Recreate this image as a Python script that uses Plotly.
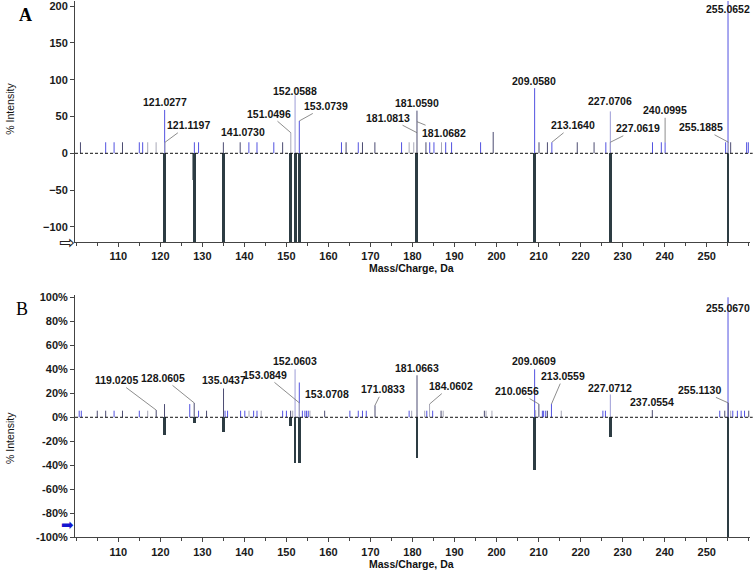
import plotly.graph_objects as go

# ---------------- data: panel A ----------------
a_blue_mz = [107, 109, 115, 115.8, 121.03, 128.1, 129.1, 141.07, 143, 147, 153.07, 163.1, 167.1, 177.4,
             184.1, 185.1, 187.9, 189.3, 196.2, 209.06, 213.16, 226.0, 237.1, 239.2, 240.1, 254.5, 255.07,
             259.5, 259.9]
a_blue_int = [15, 15, 15, 15, 59, 15, 15, 15, 15, 15, 44, 15, 15, 15,
              15, 15, 15, 15, 15, 88.6, 15, 15, 15, 15, 15, 15, 230,
              15, 15]
a_dark_mz = [101, 111, 135, 139, 149.1, 164.2, 168.1, 171.05, 181.06, 183.2, 199.2, 210.1, 212.1, 219.2, 223.2, 255.7]
a_dark_int = [15, 15, 15, 15, 15, 15, 15, 15, 58, 15, 29, 15, 15, 15, 15, 15]
a_gray_mz = [117, 119, 121.12, 151.05, 179.2, 180.3, 181.08, 181.07, 186.9, 227.06, 255.19]
a_gray_int = [15, 15, 15, 28, 15, 15, 28, 43, 15, 15, 15]
a_light_mz = [152.06, 227.07]
a_light_int = [79, 57]
a_ref_mz = [121.03, 128.06, 135.04, 151.05, 152.06, 153.07, 181.06, 209.06, 227.07, 255.07]
a_ref_int = [-250, -250, -250, -250, -250, -250, -250, -250, -250, -250]
a_ref2_mz = [127.75]
a_ref2_int = [-36]
a_lab_text = ["121.0277", "121.1197", "141.0730", "151.0496", "152.0588", "153.0739", "181.0590",
              "181.0813", "181.0682", "209.0580", "213.1640", "227.0706", "227.0619", "240.0995",
              "255.0652", "255.1885"]
a_lab_mz = [121.03, 121.12, 141.07, 151.05, 152.06, 153.07, 181.06,
            181.08, 181.07, 209.06, 213.16, 227.07, 227.06, 240.10,
            255.07, 255.19]
a_lab_int = [59, 15, 15, 28, 79, 44, 58,
             28, 43, 88.6, 15, 57, 15, 15,
             205, 15]

# ---------------- data: panel B ----------------
b_blue_mz = [100.7, 101.2, 109, 115, 127.0, 129.1, 135.4, 136.0, 139.1, 140.1, 142.2, 143.0, 149.1, 150.0,
             153.07, 153.8, 154.4, 154.8, 155.2, 165.1, 167.1, 168.1, 169.0, 179.2, 183.4, 184.8,
             209.06, 210.9, 211.2, 211.7, 213.06, 225.3, 225.9, 253.1, 255.07, 256.2, 257.3, 258.2, 259.0]
b_blue_int = [5.5, 5.5, 5.5, 5.5, 11, 5.5, 5.5, 5.5, 5.5, 5.5, 5.5, 5.5, 5.5, 5.5,
              29, 5.5, 5.5, 5.5, 5.5, 5.5, 5.5, 5.5, 5.5, 5.5, 5.5, 5.5,
              40, 5.5, 5.5, 5.5, 11, 5.5, 5.5, 5.5, 100, 5.5, 5.5, 5.5, 5.5]
b_dark_mz = [105, 107, 111, 119.02, 121.0, 128.06, 131.0, 135.04, 151.0, 159.1, 171.08, 181.07, 186.8,
             197.1, 210.07, 212.1, 237.06, 254.3, 255.11, 260.0]
b_dark_int = [5.5, 5.5, 5.5, 6, 11, 12, 5.5, 24, 5.5, 5.5, 10, 35, 5.5,
              5.5, 11, 5.5, 6, 5.5, 12, 5.5]
b_gray_mz = [117, 141.1, 144.0, 151.5, 153.08, 155.6, 179.8, 182.9, 184.06, 187.3, 197.5, 198.9, 209.3,
             215.4, 255.7]
b_gray_int = [5.5, 5.5, 5.5, 5.5, 12, 5.5, 5.5, 5.5, 11, 5.5, 5.5, 5.5, 6,
              5.5, 5.5]
b_light_mz = [152.06, 227.07]
b_light_int = [40, 19]
b_ref_mz = [121.0, 128.06, 135.04, 151.05, 152.06, 153.07, 181.06, 209.06, 227.07, 255.07]
b_ref_int = [-14.5, -5, -12.5, -7.5, -38, -38, -34, -44, -16.5, -100]
b_lab_text = ["119.0205", "128.0605", "135.0437", "152.0603", "153.0849", "153.0708", "171.0833",
              "181.0663", "184.0602", "209.0609", "210.0656", "213.0559", "227.0712", "237.0554",
              "255.0670", "255.1130"]
b_lab_mz = [119.02, 128.06, 135.04, 152.06, 153.08, 153.07, 171.08,
            181.07, 184.06, 209.06, 210.07, 213.06, 227.07, 237.06,
            255.07, 255.11]
b_lab_int = [6, 12, 24, 40, 12, 29, 10,
             35, 11, 40, 11, 11, 19, 6,
             91, 12]

x_ticks = list(range(110, 251, 10))
a_y_ticks = [-100, -50, 0, 50, 100, 150, 200]
b_y_ticks = [-100, -80, -60, -40, -20, 0, 20, 40, 60, 80, 100]
b_y_text = [f"{v}%" for v in b_y_ticks]

# ---------------- styles / positions ----------------
C_BLUE = "#5252e0"
C_DARK = "#4c4c72"
C_GRAY = "#a8a8b8"
C_LIGHT = "#9c9cd6"
C_REF = "#2d3c43"
FONT = "Liberation Sans"

# (dx, dy, leader) label centre offsets in px from peak top
a_lab_pos = [(0, -8, 0), (23, -17, 1), (-6, -10, 0), (-22, -19, 1), (0, -4, 0), (27, -15, 1), (0, -8, 0),
             (-29, -15, 1), (27, 11, 1), (-1, -7, 0), (21, -17, 1), (0, -10, 0), (28, -14, 1), (0, -32, 1),
             (0, 6, 0), (-28, -15, 1)]
b_lab_pos = [(-40, -30, 1), (-31, -25, 1), (0, -8, 0), (0, -8, 0), (-34, -28, 1), (28, 12, 1), (8, -16, 1),
             (0, -7, 0), (21, -18, 1), (-1, -8, 0), (-22, -13, 1), (12, -28, 1), (0, -6, 0), (0, -8, 0),
             (0, 0, 0), (-29, -13, 1)]


def sticks(mz, inten):
    xs, ys = [], []
    for m, h in zip(mz, inten):
        xs += [m, m, None]
        ys += [0, h, None]
    return xs, ys


fig = go.Figure()

for (xa, ya, groups) in [
    ("x", "y", [(a_blue_mz, a_blue_int, C_BLUE), (a_dark_mz, a_dark_int, C_DARK),
                (a_gray_mz, a_gray_int, C_GRAY), (a_light_mz, a_light_int, C_LIGHT)]),
    ("x2", "y2", [(b_blue_mz, b_blue_int, C_BLUE), (b_dark_mz, b_dark_int, C_DARK),
                  (b_gray_mz, b_gray_int, C_GRAY), (b_light_mz, b_light_int, C_LIGHT)]),
]:
    for mz, inten, col in groups:
        xs, ys = sticks(mz, inten)
        fig.add_trace(go.Scatter(x=xs, y=ys, mode="lines", line=dict(color=col, width=1),
                                 xaxis=xa, yaxis=ya, showlegend=False, hoverinfo="skip"))

fig.add_trace(go.Bar(x=a_ref2_mz, y=a_ref2_int, width=0.35, marker=dict(color="#8a9296", line_width=0),
                     xaxis="x", yaxis="y", showlegend=False))
fig.add_trace(go.Bar(x=a_ref_mz, y=a_ref_int, width=0.7, marker=dict(color=C_REF, line_width=0),
                     xaxis="x", yaxis="y", showlegend=False))
fig.add_trace(go.Bar(x=b_ref_mz, y=b_ref_int, width=0.65, marker=dict(color=C_REF, line_width=0),
                     xaxis="x2", yaxis="y2", showlegend=False))

ann = []
lab_font = dict(family=FONT, size=10.5, color="#151515", weight="bold")
for texts, mzs, ints, pos, xr, yr in [(a_lab_text, a_lab_mz, a_lab_int, a_lab_pos, "x", "y"),
                                      (b_lab_text, b_lab_mz, b_lab_int, b_lab_pos, "x2", "y2")]:
    for t, m, h, (dx, dy, lead) in zip(texts, mzs, ints, pos):
        if lead:
            ann.append(dict(x=m, y=h, xref=xr, yref=yr, text=t, showarrow=True, ax=dx, ay=dy,
                            arrowhead=0, arrowwidth=0.8, arrowcolor="#707070", standoff=0,
                            font=lab_font))
        else:
            ann.append(dict(x=m, y=h, xref=xr, yref=yr, text=t, showarrow=False, xshift=dx, yshift=-dy,
                            xanchor="center", yanchor="middle", font=lab_font))

ttl_font = dict(family=FONT, size=10.5, color="#111", weight="bold")
ann += [
    dict(x=0.4985, y=0.531, xref="paper", yref="paper", text="Mass/Charge, Da", showarrow=False,
         font=ttl_font, xanchor="center", yanchor="middle"),
    dict(x=0.4985, y=0.014, xref="paper", yref="paper", text="Mass/Charge, Da", showarrow=False,
         font=ttl_font, xanchor="center", yanchor="middle"),
    dict(x=-0.0963, y=0.81, xref="paper", yref="paper", text="% Intensity", showarrow=False, textangle=-90,
         font=dict(family=FONT, size=10.5, color="#111"), xanchor="center", yanchor="middle"),
    dict(x=-0.0963, y=0.2343, xref="paper", yref="paper", text="% Intensity", showarrow=False, textangle=-90,
         font=dict(family=FONT, size=10.5, color="#111"), xanchor="center", yanchor="middle"),
    dict(x=-0.074, y=0.9738, xref="paper", yref="paper", text="<b>A</b>", showarrow=False,
         font=dict(family="Liberation Serif", size=18, color="#000"), xanchor="center", yanchor="middle"),
    dict(x=-0.0785, y=0.4598, xref="paper", yref="paper", text="B", showarrow=False,
         font=dict(family="Liberation Serif", size=18, color="#000"), xanchor="center", yanchor="middle"),
    dict(x=0, y=-120, xref="x domain", yref="y", text="⇨", showarrow=False, xanchor="right", xshift=2,
         font=dict(family="DejaVu Sans", size=19, color="#222"), yanchor="middle"),
    dict(x=0, y=-90, xref="x2 domain", yref="y2", text="➡", showarrow=False, xanchor="right", xshift=1,
         font=dict(family="DejaVu Sans", size=15, color="#1515d0"), yanchor="middle"),
]

shapes = [
    dict(type="line", xref="x domain", yref="y", x0=0, x1=1.004, y0=0, y1=0,
         line=dict(color="#111", width=1, dash="3px,2px")),
    dict(type="line", xref="x2 domain", yref="y2", x0=0, x1=1.004, y0=0, y1=0,
         line=dict(color="#111", width=1, dash="3px,2px")),
]

tickfont = dict(family=FONT, size=11, color="#1a1a1a", weight="bold")
xcommon = dict(range=[99.7, 260.3], tickvals=x_ticks, ticks="outside", ticklen=4, tickcolor="#444",
               showline=True, linecolor="#444", linewidth=1, showgrid=False, zeroline=False, automargin=False,
               tickfont=tickfont, minor=dict(dtick=5, tick0=105, ticks="outside", ticklen=3, tickcolor="#444"))
ycommon = dict(ticks="outside", ticklen=4, tickcolor="#444", showline=True, linecolor="#444", linewidth=1,
               showgrid=False, zeroline=False, automargin=False, tickfont=tickfont)

fig.update_layout(
    width=756, height=572,
    margin=dict(l=75, r=6, t=0, b=0, autoexpand=False),
    plot_bgcolor="white", paper_bgcolor="white",
    barmode="overlay", bargap=0,
    xaxis=dict(anchor="y", domain=[0, 1], **xcommon),
    xaxis2=dict(anchor="y2", domain=[0, 1], **xcommon),
    yaxis=dict(anchor="x", domain=[0.5764, 0.99825], range=[-121, 207.1], tickvals=a_y_ticks, **ycommon),
    yaxis2=dict(anchor="x2", domain=[0.06066, 0.48427], range=[-100, 101.9], tickvals=b_y_ticks,
                ticktext=b_y_text, **ycommon),
    annotations=ann,
    shapes=shapes,
)

fig.write_html("out.html", config={"displayModeBar": False},
               post_script="document.body.style.margin='0px';")
